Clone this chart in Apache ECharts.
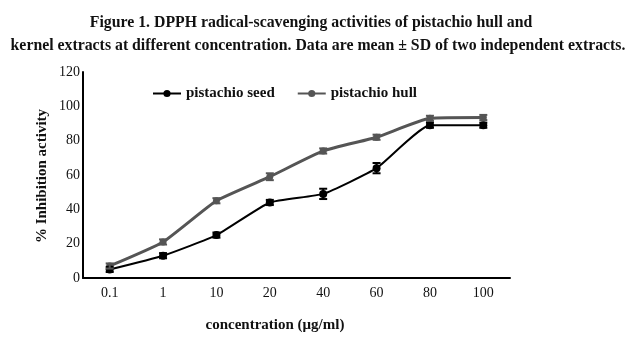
<!DOCTYPE html>
<html><head><meta charset="utf-8">
<script src="https://cdn.jsdelivr.net/npm/echarts@6/dist/echarts.min.js"></script>
<style>html,body{margin:0;padding:0;background:#fff}#c{width:637px;height:346px}</style>
</head><body><div id="c"></div>
<script>
const categories = ['0.1','1','10','20','40','60','80','100'];
const seedValues = [5, 13, 25, 44, 49, 64, 89, 89];
const seedErr = [1.5, 1.5, 1.5, 1.5, 3, 3, 1.5, 1.5];
const hullValues = [7, 21, 45, 59, 74, 82, 93, 93.5];
const hullErr = [1.5, 1.5, 1.5, 2, 1.5, 1.5, 1.5, 1.5];
const yTicks = {min: 0, max: 120, interval: 20};
const titleLines = ['Figure 1. DPPH radical-scavenging activities of pistachio hull and',
  'kernel extracts at different concentration. Data are mean ± SD of two independent extracts.'];
const seriesNames = ['pistachio seed', 'pistachio hull'];
const xName = 'concentration (μg/ml)';
const yName = '% Inhibition activity';

const serif = '"Liberation Serif", "DejaVu Serif", serif';
function errSeries(vals, errs, color) {
  return {
    type: 'custom', silent: true, z: 5,
    data: vals.map((v, i) => [i, v - errs[i], v + errs[i]]),
    renderItem: function (params, api) {
      const lo = api.coord([api.value(0), api.value(1)]);
      const hi = api.coord([api.value(0), api.value(2)]);
      const w = 4;
      const st = {stroke: color, lineWidth: 2};
      return {type: 'group', children: [
        {type: 'line', shape: {x1: lo[0], y1: lo[1], x2: hi[0], y2: hi[1]}, style: st},
        {type: 'line', shape: {x1: lo[0]-w, y1: lo[1], x2: lo[0]+w, y2: lo[1]}, style: st},
        {type: 'line', shape: {x1: hi[0]-w, y1: hi[1], x2: hi[0]+w, y2: hi[1]}, style: st}
      ]};
    }
  };
}
const chart = echarts.init(document.getElementById('c'));
chart.setOption({
  animation: false,
  legend: {
    data: seriesNames,
    left: 147, top: 81, itemWidth: 28, itemHeight: 9, itemGap: 22,
    textStyle: {fontFamily: serif, fontWeight: 'bold', fontSize: 15, color: '#111'}
  },
  grid: {left: 83, right: 127, top: 72, bottom: 68},
  xAxis: {
    type: 'category', data: categories, boundaryGap: true,
    axisLine: {lineStyle: {color: '#000', width: 2}},
    axisTick: {show: false},
    axisLabel: {fontFamily: serif, fontSize: 14, color: '#111', margin: 8}
  },
  yAxis: {
    type: 'value', min: yTicks.min, max: yTicks.max, interval: yTicks.interval,
    axisLine: {show: true, lineStyle: {color: '#000', width: 2}},
    axisTick: {show: false},
    splitLine: {show: false},
    axisLabel: {fontFamily: serif, fontSize: 14, color: '#111', margin: 3}
  },
  graphic: [
    {type: 'text', x: 311, y: 15, style: {text: titleLines[0], font: 'bold 15.8px ' + serif, fill: '#111', textAlign: 'center'}},
    {type: 'text', x: 318, y: 38, style: {text: titleLines[1], font: 'bold 15.8px ' + serif, fill: '#111', textAlign: 'center'}},
    {type: 'text', x: 275, y: 318, style: {text: xName, font: 'bold 15px ' + serif, fill: '#111', textAlign: 'center'}},
    {type: 'text', x: 35, y: 176, rotation: Math.PI / 2, style: {text: yName, font: 'bold 15px ' + serif, fill: '#111', textAlign: 'center'}}
  ],
  series: [
    {name: seriesNames[0], type: 'line', data: seedValues, smooth: 0.15, z: 4,
     symbol: 'circle', symbolSize: 8, itemStyle: {color: '#000'}, lineStyle: {color: '#000', width: 2}},
    {name: seriesNames[1], type: 'line', data: hullValues, smooth: 0.15, z: 3,
     symbol: 'circle', symbolSize: 7, itemStyle: {color: '#555'}, lineStyle: {color: '#555', width: 3}},
    errSeries(seedValues, seedErr, '#000'),
    errSeries(hullValues, hullErr, '#555')
  ]
});
</script></body></html>
